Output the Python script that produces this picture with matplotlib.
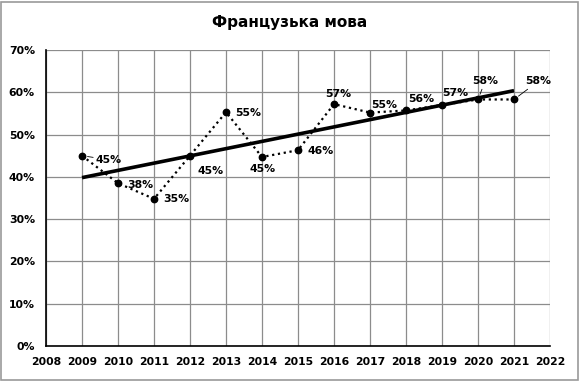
import matplotlib.pyplot as plt
import matplotlib.patches as mpatches
import numpy as np

years = [2009, 2010, 2011, 2012, 2013, 2014, 2015, 2016, 2017, 2018, 2019, 2020, 2021]
values = [45.0, 38.5, 34.8, 45.0, 55.3, 44.7, 46.3, 57.2, 55.2, 55.7, 57.0, 58.3, 58.3]
labels = ['45%', '38%', '35%', '45%', '55%', '45%', '46%', '57%', '55%', '56%', '57%', '58%', '58%']
# label offsets in pixels (dx, dy) and whether a leader line is drawn
offsets = [(27, -4), (22, -2), (22, 0), (21, -15), (22, -1), (1, -12), (23, -1),
           (4, 10), (14, 8), (15, 11), (13, 12), (7, 18), (24, 18)]
leaders = [True, False, False, False, False, False, False, False, False, False, False, True, True]

title = 'Французька мова'

fig = plt.figure(figsize=(5.8, 3.81), dpi=100)
ax = fig.add_axes([46/580, 1-346/381, 504/580, 296/381])

# trend line (linear fit)
k, b = np.polyfit(years, values, 1)
tx = np.array([years[0], years[-1]])
ax.plot(tx, k*tx + b, color='black', lw=2.6, solid_capstyle='butt', zorder=3)

ax.plot(years, values, color='black', ls=':', lw=1.6, marker='o', ms=4.6, zorder=4)

for x, y, lab, (dx, dy), ld in zip(years, values, labels, offsets, leaders):
    ax.annotate(lab, (x, y), xytext=(dx, dy), textcoords='offset pixels',
                ha='center', va='center', fontsize=7.8, fontweight='bold',
                arrowprops=dict(arrowstyle='-', color='black', lw=0.6,
                                shrinkA=0, shrinkB=4) if ld else None,
                zorder=5)

ax.set_xlim(2008, 2022)
ax.set_ylim(0, 70)
ax.set_xticks(range(2008, 2023))
ax.set_yticks(range(0, 71, 10))
ax.set_yticklabels([f'{v}%' for v in range(0, 71, 10)])
ax.grid(True, color='#8c8c8c', lw=0.9)
ax.set_axisbelow(True)
ax.tick_params(length=0, labelsize=7.8, pad=8)
for lab in ax.get_xticklabels() + ax.get_yticklabels():
    lab.set_fontweight('bold')
ax.spines['top'].set_visible(False)
ax.spines['right'].set_visible(False)
ax.spines['left'].set_color('black')
ax.spines['bottom'].set_color('black')
ax.spines['left'].set_linewidth(1.2)
ax.spines['bottom'].set_linewidth(1.2)

fig.text(0.5, 1-22/381, title, ha='center', va='center', fontsize=11, fontweight='bold')
fig.patches.append(mpatches.Rectangle((0.002, 0.003), 0.995, 0.993, transform=fig.transFigure,
                                      fill=False, edgecolor='#9a9a9a', lw=1.2))

fig.savefig('out.png', dpi=100)
